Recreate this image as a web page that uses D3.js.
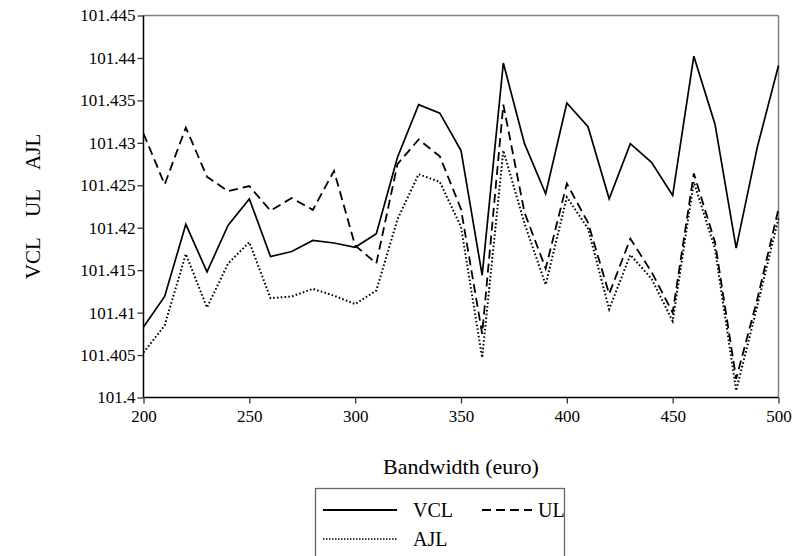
<!DOCTYPE html>
<html><head><meta charset="utf-8">
<script src="https://cdn.jsdelivr.net/npm/d3@7"></script>
<style>body{margin:0;background:#fff}svg{display:block}svg text{font-family:"Liberation Serif","Times New Roman",serif !important;fill:#000}</style>
</head><body><svg id="c" width="794" height="556"></svg>
<script>
const bandwidth = [200,210,220,230,240,250,260,270,280,290,300,310,320,330,340,350,360,370,380,390,400,410,420,430,440,450,460,470,480,490,500];
const VCL = [101.4083,101.4119,101.4204,101.4148,101.4203,101.4234,101.4166,101.4172,101.4185,101.4182,101.4177,101.4193,101.4283,101.4345,101.4335,101.4291,101.4144,101.4394,101.4299,101.4240,101.4347,101.4319,101.4234,101.4299,101.4277,101.4238,101.4402,101.4322,101.4176,101.4295,101.4391];
const UL  = [101.4311,101.4251,101.4318,101.4260,101.4243,101.4249,101.4220,101.4235,101.4221,101.4267,101.4179,101.4158,101.4275,101.4304,101.4284,101.4222,101.4075,101.4345,101.4218,101.4152,101.4252,101.4206,101.4122,101.4187,101.4148,101.4100,101.4264,101.4183,101.4022,101.4116,101.4222];
const AJL = [101.4053,101.4085,101.4169,101.4106,101.4158,101.4183,101.4117,101.4119,101.4128,101.4120,101.4110,101.4126,101.4210,101.4263,101.4254,101.4201,101.4047,101.4291,101.4205,101.4133,101.4236,101.4199,101.4104,101.4168,101.4140,101.4090,101.4254,101.4175,101.4008,101.4108,101.4211];
const xTicks = [200,250,300,350,400,450,500];
const yTicks = [101.4,101.405,101.41,101.415,101.42,101.425,101.43,101.435,101.44,101.445];
const seriesNames = ["VCL","UL","AJL"];

const FONT='"Liberation Serif","Times New Roman",serif';
const svg = d3.select("#c");
const L=143.5, R=778.5, T=15.5, B=397.5;
const x = d3.scaleLinear().domain([200,500]).range([L,R]);
const y = d3.scaleLinear().domain([101.4,101.445]).range([B,T]);

// frame top/right
svg.append("line").attr("x1",L).attr("x2",R).attr("y1",T).attr("y2",T).attr("stroke","#808080").attr("stroke-width",1.5);
svg.append("line").attr("x1",R).attr("x2",R).attr("y1",T).attr("y2",B).attr("stroke","#808080").attr("stroke-width",1.5);

const ya = svg.append("g").attr("transform",`translate(${L},0)`)
  .call(d3.axisLeft(y).tickValues(yTicks).tickSize(6).tickPadding(2).tickFormat(d=>String(+d.toFixed(3))));
const xa = svg.append("g").attr("transform",`translate(0,${B})`)
  .call(d3.axisBottom(x).tickValues(xTicks).tickSize(6).tickPadding(6).tickFormat(d3.format("d")));
[ya,xa].forEach(g=>{
  g.attr("font-family",FONT).attr("font-size",17);
  g.selectAll("path").attr("stroke","#000").attr("stroke-width",1.5);
  g.selectAll("line").attr("stroke","#333").attr("stroke-width",1.3);
  g.selectAll("text").attr("fill","#000");
});
ya.select(".domain").attr("d",`M0,${T}V${B}`);
xa.select(".domain").attr("d",`M${L},0H${R}`);

const styles = {VCL:{dash:null,w:1.7},UL:{dash:"9,5",w:1.8},AJL:{dash:"1.6,2.2",w:2}};
const data = {VCL,UL,AJL};
const line = d3.line().x((d,i)=>x(bandwidth[i])).y(d=>y(d));
["AJL","UL","VCL"].forEach(n=>{
  svg.append("path").attr("d",line(data[n])).attr("fill","none").attr("stroke","#000")
    .attr("stroke-width",styles[n].w).attr("stroke-dasharray",styles[n].dash).attr("stroke-linejoin","miter");
});

svg.append("text").attr("x",(L+R)/2).attr("y",474).attr("text-anchor","middle").attr("font-family",FONT).attr("font-size",22).text("Bandwidth (euro)");
svg.append("text").attr("transform",`translate(40,${(T+B)/2}) rotate(-90)`).attr("text-anchor","middle").attr("font-family",FONT).attr("font-size",21).attr("xml:space","preserve").style("white-space","pre").text("VCL    UL    AJL");

// legend
const lg = svg.append("g");
lg.append("rect").attr("x",315.5).attr("y",488.5).attr("width",249).attr("height",80).attr("fill","none").attr("stroke","#666").attr("stroke-width",1.3);
const items=[{n:"VCL",x:323,y:510,len:74,tx:413},{n:"UL",x:482,y:510,len:50,tx:538},{n:"AJL",x:323,y:539,len:74,tx:413}];
items.forEach(it=>{
  lg.append("line").attr("x1",it.x).attr("x2",it.x+it.len).attr("y1",it.y).attr("y2",it.y)
    .attr("stroke","#000").attr("stroke-width",it.n==="AJL"?1.6:2).attr("stroke-dasharray",it.n==="UL"?"9,5":(it.n==="AJL"?"1.5,1.5":null));
  lg.append("text").attr("x",it.tx).attr("y",it.y+7).attr("font-family",FONT).attr("font-size",20).text(it.n);
});
</script></body></html>
